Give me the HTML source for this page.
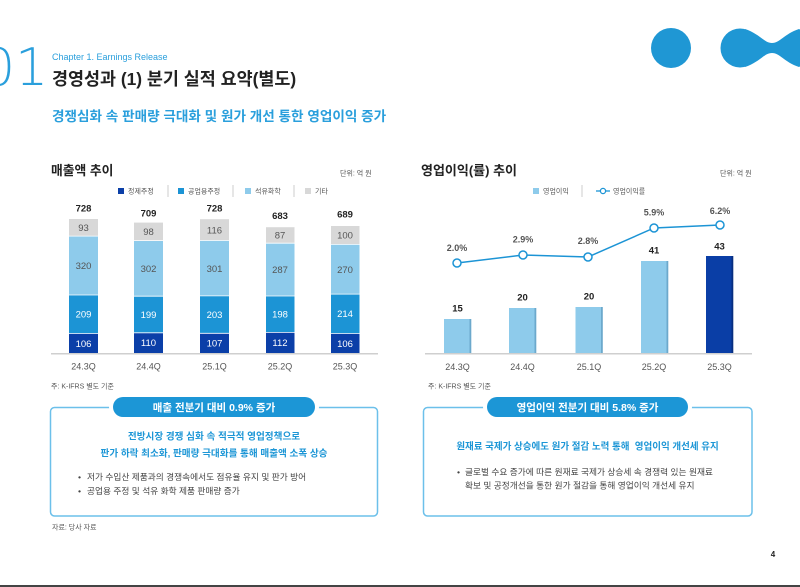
<!DOCTYPE html>
<html><head><meta charset="utf-8">
<style>
html,body{margin:0;padding:0;background:#fff;}
svg{display:block;}
text{font-family:"Liberation Sans","Noto Sans CJK KR",sans-serif;}
</style></head>
<body>
<svg width="800" height="587" viewBox="0 0 800 587" xmlns="http://www.w3.org/2000/svg">
<rect width="800" height="587" fill="#fff"/>

<!-- header -->
<text x="-18" y="85" font-size="52" font-weight="200" fill="#2a9fdc" style="font-family:'DejaVu Sans','Liberation Sans',sans-serif;">01</text>
<text x="52" y="60" font-size="9" fill="#2a9fdc">Chapter 1. Earnings Release</text>
<text x="52" y="85" font-size="17.4" font-weight="bold" fill="#222">경영성과 (1) 분기 실적 요약(별도)</text>
<text x="52" y="121" font-size="13.6" font-weight="bold" fill="#2a9fdc">경쟁심화 속 판매량 극대화 및 원가 개선 통한 영업이익 증가</text>

<!-- logo -->
<g fill="#1f97d4">
<circle cx="671" cy="48" r="20"/>
<circle cx="740" cy="48" r="19.5"/>
<circle cx="805" cy="48" r="19.5"/>
<path d="M745 29 C760 34 764 43 772 43 C780 43 784 34 799 29 L799 67 C784 62 780 53 772 53 C764 53 760 62 745 67 Z"/>
</g>

<!-- LEFT CHART -->
<text x="51" y="175" font-size="12.8" font-weight="bold" fill="#222">매출액 추이</text>
<text x="340" y="175.5" font-size="7" fill="#555">단위: 억 원</text>
<g font-size="7" fill="#555">
<rect x="118" y="188" width="6" height="6" fill="#0b3fa8"/><text x="128" y="193.5">정제주정</text>
<line x1="168" y1="185" x2="168" y2="197" stroke="#ccc" stroke-width="1"/>
<rect x="178" y="188" width="6" height="6" fill="#1c94d5"/><text x="188" y="193.5">공업용주정</text>
<line x1="233" y1="185" x2="233" y2="197" stroke="#ccc" stroke-width="1"/>
<rect x="245" y="188" width="6" height="6" fill="#8ecbeb"/><text x="255" y="193.5">석유화학</text>
<line x1="294" y1="185" x2="294" y2="197" stroke="#ccc" stroke-width="1"/>
<rect x="305" y="188" width="6" height="6" fill="#d8d8d8"/><text x="315" y="193.5">기타</text>
</g>

<!-- bars -->
<g>
<rect x="69" y="219" width="29" height="17.1" fill="#d8d8d8"/>
<rect x="69" y="236.1" width="29" height="58.9" fill="#8ecbeb"/>
<rect x="69" y="295" width="29" height="38.5" fill="#1c94d5"/>
<rect x="69" y="333.5" width="29" height="19.5" fill="#0b3fa8"/>
<rect x="134" y="222.6" width="29" height="18" fill="#d8d8d8"/>
<rect x="134" y="240.6" width="29" height="55.6" fill="#8ecbeb"/>
<rect x="134" y="296.2" width="29" height="36.6" fill="#1c94d5"/>
<rect x="134" y="332.8" width="29" height="20.2" fill="#0b3fa8"/>
<rect x="200" y="219.2" width="29" height="21.3" fill="#d8d8d8"/>
<rect x="200" y="240.5" width="29" height="55.4" fill="#8ecbeb"/>
<rect x="200" y="295.9" width="29" height="37.4" fill="#1c94d5"/>
<rect x="200" y="333.3" width="29" height="19.7" fill="#0b3fa8"/>
<rect x="266" y="227.2" width="28.5" height="16" fill="#d8d8d8"/>
<rect x="266" y="243.2" width="28.5" height="52.8" fill="#8ecbeb"/>
<rect x="266" y="296" width="28.5" height="36.4" fill="#1c94d5"/>
<rect x="266" y="332.4" width="28.5" height="20.6" fill="#0b3fa8"/>
<rect x="331" y="226" width="28.5" height="18.4" fill="#d8d8d8"/>
<rect x="331" y="244.4" width="28.5" height="49.7" fill="#8ecbeb"/>
<rect x="331" y="294.1" width="28.5" height="39.4" fill="#1c94d5"/>
<rect x="331" y="333.5" width="28.5" height="19.5" fill="#0b3fa8"/>
</g>
<g stroke="#fff" stroke-width="0.8">
<line x1="69" y1="236.1" x2="98" y2="236.1"/><line x1="69" y1="295" x2="98" y2="295"/><line x1="69" y1="333.5" x2="98" y2="333.5"/>
<line x1="134" y1="240.6" x2="163" y2="240.6"/><line x1="134" y1="296.2" x2="163" y2="296.2"/><line x1="134" y1="332.8" x2="163" y2="332.8"/>
<line x1="200" y1="240.5" x2="229" y2="240.5"/><line x1="200" y1="295.9" x2="229" y2="295.9"/><line x1="200" y1="333.3" x2="229" y2="333.3"/>
<line x1="266" y1="243.2" x2="294.5" y2="243.2"/><line x1="266" y1="296" x2="294.5" y2="296"/><line x1="266" y1="332.4" x2="294.5" y2="332.4"/>
<line x1="331" y1="244.4" x2="359.5" y2="244.4"/><line x1="331" y1="294.1" x2="359.5" y2="294.1"/><line x1="331" y1="333.5" x2="359.5" y2="333.5"/>
</g>
<line x1="51" y1="353.8" x2="378" y2="353.8" stroke="#cfcfcf" stroke-width="1.5"/>

<g font-size="9.5" font-weight="bold" fill="#222" text-anchor="middle">
<text x="83.5" y="211.5">728</text>
<text x="148.5" y="216.5">709</text>
<text x="214.5" y="211.5">728</text>
<text x="280" y="219">683</text>
<text x="345" y="217.5">689</text>
</g>
<g font-size="9.5" text-anchor="middle">
<g fill="#555">
<text x="83.5" y="231">93</text><text x="83.5" y="269">320</text>
<text x="148.5" y="235">98</text><text x="148.5" y="272">302</text>
<text x="214.5" y="233.5">116</text><text x="214.5" y="272">301</text>
<text x="280" y="238.5">87</text><text x="280" y="273">287</text>
<text x="345" y="238.5">100</text><text x="345" y="273">270</text>
</g>
<g fill="#fff">
<text x="83.5" y="317.5">209</text><text x="83.5" y="347">106</text>
<text x="148.5" y="318">199</text><text x="148.5" y="346">110</text>
<text x="214.5" y="318">203</text><text x="214.5" y="346.5">107</text>
<text x="280" y="317.5">198</text><text x="280" y="346">112</text>
<text x="345" y="317">214</text><text x="345" y="347">106</text>
</g>
</g>
<g font-size="9" fill="#555" text-anchor="middle">
<text x="83.5" y="369.5">24.3Q</text>
<text x="148.5" y="369.5">24.4Q</text>
<text x="214.5" y="369.5">25.1Q</text>
<text x="280" y="369.5">25.2Q</text>
<text x="345" y="369.5">25.3Q</text>
</g>
<text x="51" y="388.5" font-size="7" fill="#555">주: K-IFRS 별도 기준</text>

<!-- RIGHT CHART -->
<text x="421" y="175" font-size="13" font-weight="bold" fill="#222">영업이익(률) 추이</text>
<text x="720" y="175.5" font-size="7" fill="#555">단위: 억 원</text>
<g font-size="7" fill="#555">
<rect x="533" y="188" width="6" height="6" fill="#8ecbeb"/><text x="543" y="193.5">영업이익</text>
<line x1="582" y1="185" x2="582" y2="197" stroke="#ccc" stroke-width="1"/>
<line x1="596" y1="191" x2="610" y2="191" stroke="#1c94d5" stroke-width="1.3"/>
<circle cx="603" cy="191" r="2.6" fill="#fff" stroke="#1c94d5" stroke-width="1.3"/>
<text x="613" y="193.5">영업이익률</text>
</g>

<rect x="444" y="319" width="27" height="34" fill="#8ecbeb"/><rect x="469.5" y="319" width="1.8" height="34" fill="#6ca9cc"/>
<rect x="509" y="308" width="27" height="45" fill="#8ecbeb"/><rect x="534.5" y="308" width="1.8" height="45" fill="#6ca9cc"/>
<rect x="575.5" y="307" width="27" height="46" fill="#8ecbeb"/><rect x="601" y="307" width="1.8" height="46" fill="#6ca9cc"/>
<rect x="641" y="261" width="27" height="92" fill="#8ecbeb"/><rect x="666.5" y="261" width="1.8" height="92" fill="#6ca9cc"/>
<rect x="706" y="256" width="27" height="97" fill="#0a3ea6"/><rect x="731.5" y="256" width="1.8" height="97" fill="#072e80"/>
<line x1="425" y1="353.8" x2="752" y2="353.8" stroke="#cfcfcf" stroke-width="1.5"/>

<g font-size="9.5" font-weight="bold" fill="#222" text-anchor="middle">
<text x="457.5" y="311.5">15</text>
<text x="522.5" y="300.5">20</text>
<text x="589" y="299.5">20</text>
<text x="654" y="253.5">41</text>
<text x="719.5" y="249.5">43</text>
</g>

<polyline points="457,263 523,255 588,257 654,228 720,225" fill="none" stroke="#1c94d5" stroke-width="1.5"/>
<g fill="#fff" stroke="#1c94d5" stroke-width="1.5">
<circle cx="457" cy="263" r="4"/>
<circle cx="523" cy="255" r="4"/>
<circle cx="588" cy="257" r="4"/>
<circle cx="654" cy="228" r="4"/>
<circle cx="720" cy="225" r="4"/>
</g>
<g font-size="9" font-weight="bold" fill="#555" text-anchor="middle">
<text x="457" y="251">2.0%</text>
<text x="523" y="242.5">2.9%</text>
<text x="588" y="244">2.8%</text>
<text x="654" y="215.5">5.9%</text>
<text x="720" y="214">6.2%</text>
</g>
<g font-size="9" fill="#555" text-anchor="middle">
<text x="457.5" y="370">24.3Q</text>
<text x="522.5" y="370">24.4Q</text>
<text x="589" y="370">25.1Q</text>
<text x="654" y="370">25.2Q</text>
<text x="719.5" y="370">25.3Q</text>
</g>
<text x="428" y="388.5" font-size="7" fill="#555">주: K-IFRS 별도 기준</text>

<!-- LEFT BOX -->
<rect x="50.5" y="407.5" width="327" height="108.5" rx="4" fill="none" stroke="#6cc0ea" stroke-width="1.5"/>
<rect x="109" y="394" width="210" height="26" rx="13" fill="#fff"/>
<rect x="113" y="397" width="202" height="20" rx="10" fill="#1c96d6"/>
<text x="214" y="410.8" font-size="10.5" font-weight="bold" fill="#fff" text-anchor="middle">매출 전분기 대비 0.9% 증가</text>
<g font-size="9.6" font-weight="bold" fill="#1c96d6" text-anchor="middle">
<text x="214" y="439.5">전방시장 경쟁 심화 속 적극적 영업정책으로</text>
<text x="214" y="456.5">판가 하락 최소화, 판매량 극대화를 통해 매출액 소폭 상승</text>
</g>
<g font-size="8.7" fill="#444">
<text x="78" y="480">•</text><text x="87" y="480">저가 수입산 제품과의 경쟁속에서도 점유율 유지 및 판가 방어</text>
<text x="78" y="494">•</text><text x="87" y="494">공업용 주정 및 석유 화학 제품 판매량 증가</text>
</g>
<text x="52" y="529.5" font-size="7" fill="#555">자료: 당사 자료</text>

<!-- RIGHT BOX -->
<rect x="423.5" y="407.5" width="328.5" height="108.5" rx="4" fill="none" stroke="#6cc0ea" stroke-width="1.5"/>
<rect x="483" y="394" width="209" height="26" rx="13" fill="#fff"/>
<rect x="487" y="397" width="201" height="20" rx="10" fill="#1c96d6"/>
<text x="587.5" y="410.8" font-size="10.5" font-weight="bold" fill="#fff" text-anchor="middle">영업이익 전분기 대비 5.8% 증가</text>
<text x="587.5" y="449.5" font-size="9.5" font-weight="bold" fill="#1c96d6" text-anchor="middle" xml:space="preserve">원재료 국제가 상승에도 원가 절감 노력 통해  영업이익 개선세 유지</text>
<g font-size="8.7" fill="#444">
<text x="457" y="475">•</text><text x="465" y="475">글로벌 수요 증가에 따른 원재료 국제가 상승세 속 경쟁력 있는 원재료</text>
<text x="465" y="488.5">확보 및 공정개선을 통한 원가 절감을 통해 영업이익 개선세 유지</text>
</g>

<text x="773" y="557" font-size="8" font-weight="bold" fill="#222" text-anchor="middle">4</text>
<rect x="0" y="585" width="800" height="2" fill="#444"/>
</svg>
</body></html>
